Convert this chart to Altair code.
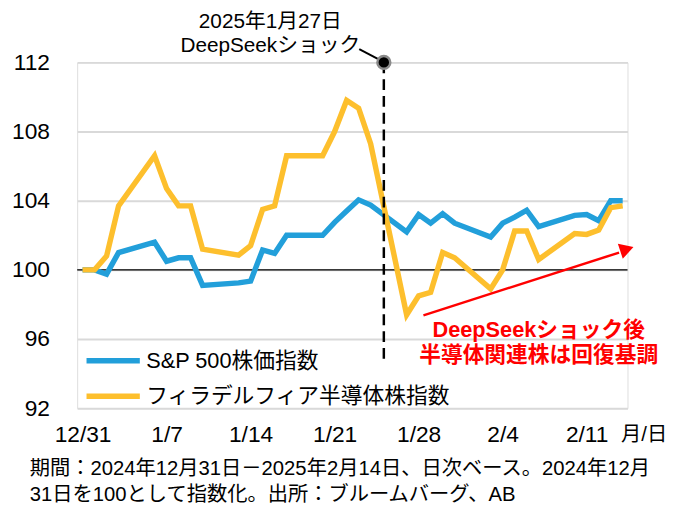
import altair as alt
import pandas as pd

# ---- data ----
dates = ["2024-12-31", "2025-01-01", "2025-01-02", "2025-01-03", "2025-01-06",
         "2025-01-07", "2025-01-08", "2025-01-09", "2025-01-10", "2025-01-13",
         "2025-01-14", "2025-01-15", "2025-01-16", "2025-01-17", "2025-01-20",
         "2025-01-21", "2025-01-22", "2025-01-23", "2025-01-24", "2025-01-27",
         "2025-01-28", "2025-01-29", "2025-01-30", "2025-01-31", "2025-02-03",
         "2025-02-04", "2025-02-05", "2025-02-06", "2025-02-07", "2025-02-10",
         "2025-02-11", "2025-02-12", "2025-02-13", "2025-02-14"]
sp500 = [100, 100, 99.75, 101.0, 101.6, 100.5, 100.7, 100.7, 99.1, 99.25,
         99.35, 101.15, 100.95, 102.0, 102.0, 102.75, 103.4, 104.05, 103.75, 102.2,
         103.2, 102.7, 103.25, 102.7, 101.9, 102.7, 103.05, 103.45, 102.5, 103.15,
         103.2, 102.85, 104.0, 104.0]
sox = [100, 100, 100.8, 103.7, 106.6, 104.7, 103.7, 103.7, 101.2, 100.85,
       101.4, 103.5, 103.7, 106.6, 106.6, 108.0, 109.8, 109.35, 107.3, 97.4,
       98.5, 98.7, 101.0, 100.7, 98.9, 100.0, 102.25, 102.25, 100.6, 102.1,
       102.05, 102.3, 103.6, 103.7]
series_names = ["S&P 500株価指数", "フィラデルフィア半導体株指数"]
series_colors = ["#229fda", "#fdbf2d"]
tick_days = [0, 7, 14, 21, 28, 35, 42]
tick_labels = ["12/31", "1/7", "1/14", "1/21", "1/28", "2/4", "2/11"]
y_ticks = [92, 96, 100, 104, 108, 112]
event_day = 25.1  # dashed marker between 1/24 and 1/27 as drawn
top_note = ["2025年1月27日", "DeepSeekショック"]
red_note = ["DeepSeekショック後", "半導体関連株は回復基調"]
footnote = ["期間：2024年12月31日－2025年2月14日、日次ベース。2024年12月",
            "31日を100として指数化。出所：ブルームバーグ、AB"]

FONT = "Liberation Sans, Arial, Noto Sans CJK JP"

base_date = pd.Timestamp("2024-12-31")
days = [(pd.Timestamp(d) - base_date).days for d in dates]
df_sp = pd.DataFrame({"day": days, "value": sp500})
df_sox = pd.DataFrame({"day": days, "value": sox})

label_expr = "[" + ",".join("'%s'" % t for t in tick_labels) + "][datum.value / 7]"

xscale = alt.Scale(domain=[-0.45, 45.4], nice=False, zero=False)
yscale = alt.Scale(domain=[92, 112], nice=False, zero=False)
xaxis = alt.Axis(values=tick_days, labelExpr=label_expr, grid=False, ticks=False,
                 domain=False, labelFontSize=23, labelPadding=27,
                 labelBaseline="middle", labelColor="black", labelFont=FONT,
                 title="月/日", titleFontSize=20.5, titleFontWeight="normal",
                 titleFont=FONT, titleAnchor="start", titleAlign="left",
                 titleX=550, titleY=27, titleBaseline="middle", titleColor="black")
yaxis = alt.Axis(values=y_ticks, grid=True, gridColor="#d9d9d9", gridWidth=2,
                 ticks=False, domain=False, labelFontSize=23, labelPadding=28,
                 labelColor="black", labelFont=FONT, title=None)

X = alt.X("day:Q", scale=xscale, axis=xaxis)
Y = alt.Y("value:Q", scale=yscale, axis=yaxis)

baseline = alt.Chart(pd.DataFrame({"value": [100]})).mark_rule(
    color="black", strokeWidth=1.5).encode(y=Y)

line_sp = alt.Chart(df_sp).mark_line(color=series_colors[0], strokeWidth=5.5,
                                     strokeJoin="miter").encode(x=X, y=Y)
line_sox = alt.Chart(df_sox).mark_line(color=series_colors[1], strokeWidth=5.5,
                                       strokeJoin="miter").encode(x=X, y=Y)

# event marker
ev = pd.DataFrame({"day": [event_day], "value": [112.0], "value2": [94.6]})
dashed = alt.Chart(ev).mark_rule(color="black", strokeWidth=2.5,
                                 strokeDash=[11, 6]).encode(x=X, y=Y, y2="value2:Q")
leader = alt.Chart(pd.DataFrame({"day": [23.05], "day2": [24.6],
                                 "value": [112.76], "value2": [112.2]})).mark_rule(
    color="black", strokeWidth=2).encode(x=X, x2="day2:Q", y=Y, y2="value2:Q")
dot = alt.Chart(ev).mark_point(shape="circle", filled=True, size=170, color="black",
                               stroke="#8a8a8a", strokeWidth=2.5, opacity=1).encode(x=X, y=Y)
top_txt = alt.Chart(pd.DataFrame({"day": [15.64, 15.64], "value": [114.35, 112.95],
                                  "t": top_note})).mark_text(
    fontSize=21, font=FONT, color="black", align="center", baseline="middle").encode(
    x=X, y=Y, text="t:N")

# red arrow and note
arrow = alt.Chart(pd.DataFrame({"day": [28.4], "day2": [44.7],
                                "value": [97.37], "value2": [101.0]})).mark_rule(
    color="#ff0000", strokeWidth=2.5).encode(x=X, x2="day2:Q", y=Y, y2="value2:Q")
head = alt.Chart(pd.DataFrame({"day": [45.35], "value": [101.2]})).mark_point(
    shape="triangle-right", filled=True, size=260, color="#ff0000", opacity=1,
    angle=342).encode(x=X, y=Y)
red_txt = alt.Chart(pd.DataFrame({"day": [38.0, 38.0], "value": [96.53, 95.08],
                                  "t": red_note})).mark_text(
    fontSize=22, font=FONT, fontWeight="bold", color="#ff0000", align="center",
    baseline="middle").encode(x=X, y=Y, text="t:N")

# legend drawn in data space
leg = pd.DataFrame({"day": [0.33, 0.33], "day2": [4.77, 4.77],
                    "value": [94.74, 92.69], "name": series_names,
                    "tx": [5.3, 5.3]})
leg_color = alt.Color("name:N", scale=alt.Scale(domain=series_names, range=series_colors),
                      legend=None)
leg_lines = alt.Chart(leg).mark_rule(strokeWidth=5.5).encode(
    x=X, x2="day2:Q", y=Y, color=leg_color)
leg_text = alt.Chart(leg).mark_text(fontSize=22, font=FONT, color="black", align="left",
                                    baseline="middle").encode(
    x=alt.X("tx:Q", scale=xscale, axis=xaxis), y=Y, text="name:N")

# footnote
foot = alt.Chart(pd.DataFrame({"t": footnote, "py": [412, 438]})).mark_text(
    fontSize=20.5, font=FONT, color="black", align="left", baseline="middle").encode(
    x=alt.value(-48), y=alt.Y("py:Q", scale=None), text="t:N")

chart = alt.layer(baseline, line_sp, line_sox, dashed, leader, dot, top_txt,
                  arrow, head, red_txt, leg_lines, leg_text, foot).properties(
    width=557, height=350, autosize=alt.AutoSizeParams(type="none"),
    padding={"left": 70, "top": 52, "right": 41, "bottom": 100}
).configure_view(stroke=None).configure(font=FONT)

chart.save("out.html", embed_options={"renderer": "svg", "actions": False})
